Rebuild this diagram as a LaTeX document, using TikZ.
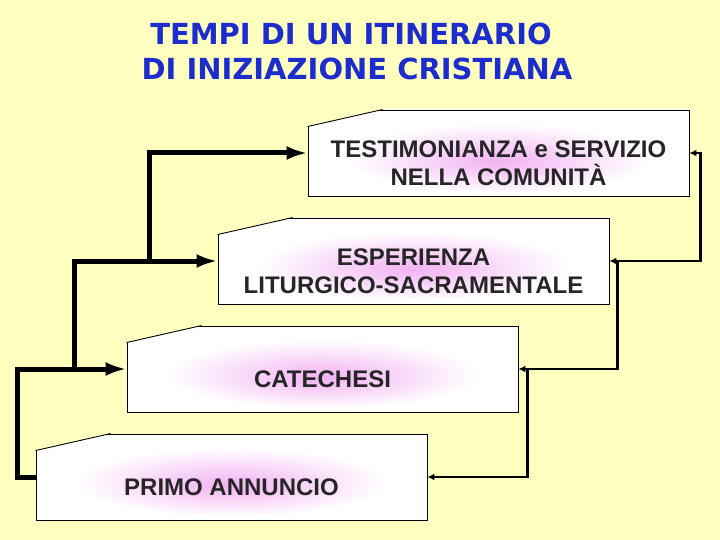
\documentclass[tikz,border=0pt]{standalone}
\usepackage{fontspec}
\setmainfont{Liberation Sans}
\newfontfamily\titlefont{DejaVu Sans}
\usetikzlibrary{arrows.meta}
\definecolor{bgyellow}{RGB}{255,255,192}
\definecolor{titleblue}{RGB}{28,44,205}
\pgfdeclareradialshading{glow}{\pgfpoint{0bp}{-5bp}}{rgb(0bp)=(0.95,0.70,0.95); rgb(7bp)=(0.97,0.80,0.97); rgb(20bp)=(1,1,1); rgb(50bp)=(1,1,1)}
\tikzset{
  stagebox/.style={draw=black, line width=0.9pt, shade, shading=glow, minimum height=86pt, inner sep=0pt},
  stagetext/.style={font=\bfseries\fontsize{24}{28.5}\selectfont, align=center, text=black!85, inner sep=0pt},
  titletext/.style={font=\titlefont\bfseries\fontsize{29}{34}\selectfont, text=titleblue, inner sep=0pt},
  thickconn/.style={line width=5pt, -{Latex[length=21pt,width=14pt]}},
  thinconn/.style={line width=2.2pt, -{Latex[length=7pt,width=7pt]}},
  thinboth/.style={line width=2.2pt, {Latex[length=7pt,width=7pt]}-{Latex[length=7pt,width=7pt]}},
}
\begin{document}
\begin{tikzpicture}[x=1pt,y=-1pt]
\useasboundingbox (0,0) rectangle (720,540);
\fill[bgyellow] (0,0) rectangle (720,540);

\node[titletext] (title1) at (351,34) {TEMPI DI UN ITINERARIO};
\node[titletext] (title2) at (357,69) {DI INIZIAZIONE CRISTIANA};

\node[stagebox, minimum width=381pt] (b1) at (498.5,153) {};
\node[stagebox, minimum width=391pt] (b2) at (413.5,261) {};
\node[stagebox, minimum width=391pt] (b3) at (322.5,369) {};
\node[stagebox, minimum width=391pt] (b4) at (231.5,477) {};

\foreach \b in {b1,b2,b3,b4}{
  \fill[bgyellow] ([shift={(-1.5,-1.5)}]\b.north west) -- ([shift={(76,-1.5)}]\b.north west)
     -- ([shift={(75,0)}]\b.north west) -- ([shift={(0,17)}]\b.north west)
     -- ([shift={(-1.5,17)}]\b.north west) -- cycle;
  \draw[line width=0.9pt] ([shift={(0,17)}]\b.north west) -- ([shift={(75,0)}]\b.north west);
}

\node[stagetext] (t1) at ([yshift=-10pt]b1.center) {TESTIMONIANZA e SERVIZIO\\NELLA COMUNIT\`A};
\node[stagetext] (t2) at ([yshift=-10pt]b2.center) {ESPERIENZA\\LITURGICO-SACRAMENTALE};
\node[stagetext] (t3) at ([yshift=-10pt]b3.center) {CATECHESI};
\node[stagetext] (t4) at ([yshift=-10pt]b4.center) {PRIMO ANNUNCIO};

% left thick connectors
\coordinate (j3) at ([xshift=-52pt]b3.west);
\coordinate (j2) at ([xshift=-68pt]b2.west);
\draw[thickconn] (b4.west) -- ++(-18,0) |- (b3.west);
\draw[thickconn] (j3) |- (b2.west);
\draw[thickconn] (j2) |- (b1.west);

% right thin connectors
\coordinate (k2) at ([xshift=8pt]b2.east);
\coordinate (k3) at ([xshift=9pt]b3.east);
\draw[thinboth] (b2.east) -- ++(91,0) |- (b1.east);
\draw[thinconn] (k2) |- (b3.east);
\draw[thinconn] (k3) |- (b4.east);
\end{tikzpicture}
\end{document}
